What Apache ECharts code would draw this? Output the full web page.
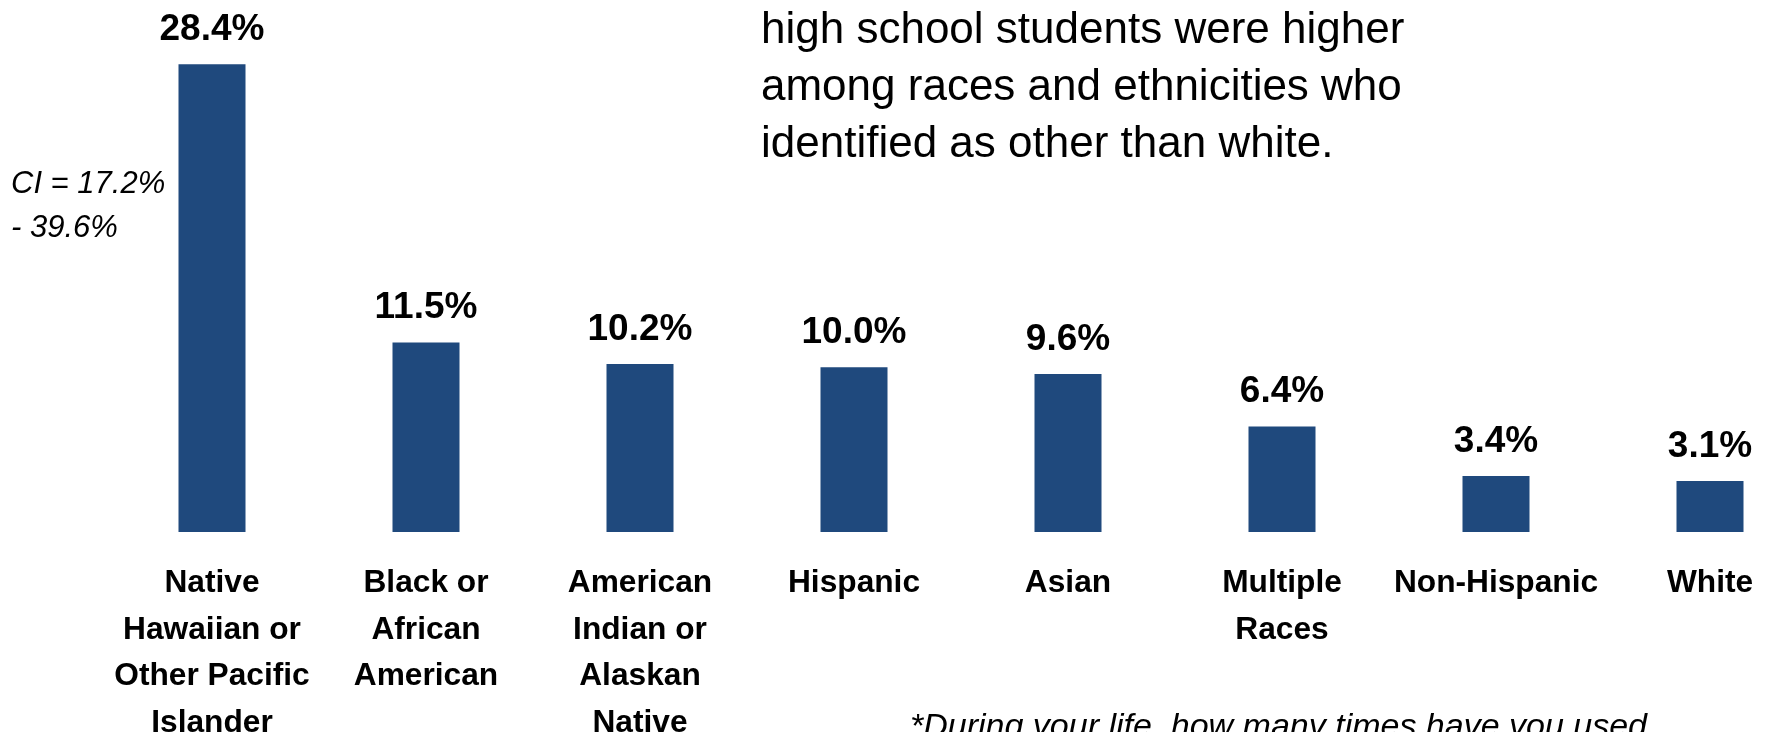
<!DOCTYPE html>
<html>
<head>
<meta charset="utf-8">
<script src="https://cdn.jsdelivr.net/npm/echarts@6/dist/echarts.min.js"></script>
<style>
  html, body { margin: 0; padding: 0; background: #fff; }
  #chart { width: 1771px; height: 732px; }
</style>
</head>
<body>
<div id="chart"></div>
<script>
// groups and lifetime-use percentages
const categories = [
  'Native\nHawaiian or\nOther Pacific\nIslander',
  'Black or\nAfrican\nAmerican',
  'American\nIndian or\nAlaskan\nNative',
  'Hispanic',
  'Asian',
  'Multiple\nRaces',
  'Non-Hispanic',
  'White'
]
const values = [28.4, 11.5, 10.2, 10.0, 9.6, 6.4, 3.4, 3.1]
const titleLines = [
  'high school students were higher',
  'among races and ethnicities who',
  'identified as other than white.'
]
const ciLines = ['CI = 17.2%', '- 39.6%']
const footnote = '*During your life, how many times have you used'

const FONT = "'Liberation Sans', Arial, sans-serif"
const myChart = echarts.init(document.getElementById('chart'))

const textEl = (t, x, y, font) => ({
  type: 'text',
  x: x,
  y: y,
  style: {
    text: t,
    font: font,
    fill: '#000',
    verticalAlign: 'middle',
    textVerticalAlign: 'middle'
  }
})

const graphic = []
titleLines.forEach((t, i) => {
  graphic.push(textEl(t, 761, [30.5, 88, 144.8][i], '44px ' + FONT))
})
ciLines.forEach((t, i) => {
  graphic.push(textEl(t, 11, [184.3, 228.3][i], 'italic 31px ' + FONT))
})
graphic.push(textEl(footnote, 910, 727.5, 'italic 34px ' + FONT))

const option = {
  animation: false,
  grid: {
    left: 105,
    top: 37.9,
    width: 1712,
    height: 494.1,
    outerBoundsMode: 'none',
    containLabel: false
  },
  xAxis: {
    type: 'category',
    data: categories,
    axisLine: { show: false },
    axisTick: { show: false },
    axisLabel: {
      interval: 0,
      margin: 28.5,
      lineHeight: 46.5,
      fontSize: 31.7,
      fontWeight: 'bold',
      fontFamily: FONT,
      color: '#000'
    }
  },
  yAxis: {
    type: 'value',
    min: 0,
    max: 30,
    show: false
  },
  series: [
    {
      type: 'bar',
      data: values,
      barWidth: 67,
      itemStyle: { color: '#1F497D' },
      label: {
        show: true,
        position: 'top',
        distance: 16,
        lineHeight: 37,
        fontSize: 37,
        fontWeight: 'bold',
        fontFamily: FONT,
        color: '#000',
        formatter: p => p.value.toFixed(1) + '%'
      }
    }
  ],
  graphic: graphic
}

option && myChart.setOption(option)
</script>
</body>
</html>
